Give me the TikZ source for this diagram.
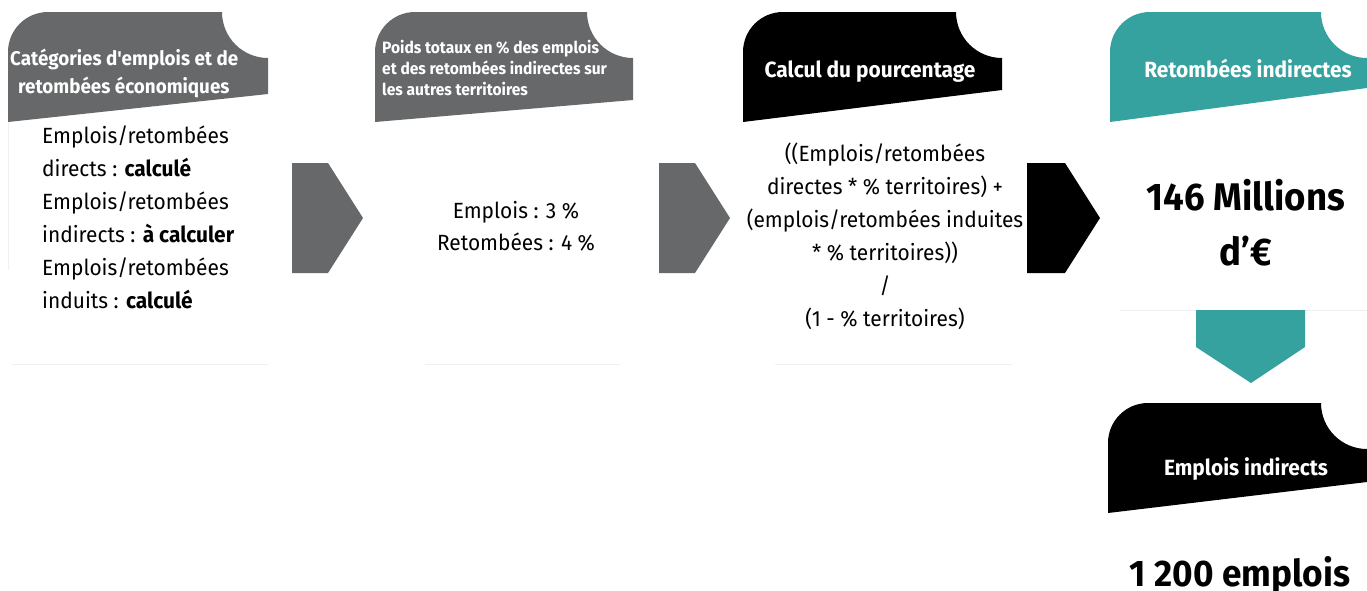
\documentclass[tikz,border=0pt]{standalone}
\usepackage{fontspec}
\setmainfont{Fira Sans}[FakeStretch=0.95,Ligatures=TeXOff]
\definecolor{hgray}{HTML}{666869}
\definecolor{teal}{HTML}{36A29F}
\definecolor{faint}{HTML}{F0F0F0}
\newcommand\hdrshape[6]{% x y w hleft hright color
  \fill[#6] (#1,#2+#4) -- (#1,#2+40) arc[start angle=180,end angle=270,radius=40]
    -- (#1+#3-46,#2) arc[start angle=180,end angle=90,radius=46]
    -- (#1+#3,#2+#5) -- cycle;}
\newcommand\chevright[5]{% x y w h color
  \fill[#5] (#1,#2) -- (#1+#3-35,#2) -- (#1+#3,#2+#4/2) -- (#1+#3-35,#2+#4) -- (#1,#2+#4) -- cycle;}
\tikzset{
  hdrtext/.style={text=white,font=\bfseries\fontsize{22}{29}\selectfont,inner sep=0pt},
  bodytext/.style={text=black,font=\fontsize{22}{33}\selectfont,inner sep=0pt},
  bigtext/.style={text=black,font=\bfseries\fontsize{38.5}{55}\selectfont,inner sep=0pt},
  faintline/.style={draw=faint,line width=1pt}
}
\begin{document}
\begin{tikzpicture}[x=1pt,y=-1pt]
\useasboundingbox (0,0) rectangle (1367,590);
% faint content boxes
\draw[faintline] (8,122) -- (8,270);
\draw[faintline] (12,364) -- (268,364);
\draw[faintline] (425,364) -- (620,364);
\draw[faintline] (775,364) -- (1012,364);
\draw[faintline] (1120,310) -- (1367,310);
% headers
\hdrshape{8}{12}{260}{110}{82}{hgray}
\hdrshape{375}{12}{258}{110}{88}{hgray}
\hdrshape{743}{12}{259}{110}{78}{black}
\hdrshape{1110}{12}{257}{110}{76}{teal}
\hdrshape{1108}{403}{259}{110}{79}{black}
% chevrons
\chevright{292}{163}{71}{110}{hgray}
\chevright{659}{163}{71}{110}{hgray}
\chevright{1027}{163}{73}{110}{black}
\fill[teal] (1196,310) -- (1305,310) -- (1305,347) -- (1251,383) -- (1196,347) -- cycle;
% header texts (anchor base = last line)
\node[hdrtext,anchor=base west,align=left,font=\bfseries\fontsize{19.8}{28}\selectfont] (h1) at (10,93) {Catégories d'emplois et de\\\hspace*{8pt}retombées économiques};
\node[hdrtext,anchor=base west,align=left,font=\bfseries\fontsize{16.4}{21}\selectfont] (h2) at (382,95) {Poids totaux en \% des emplois\\et des retombées indirectes sur\\les autres territoires};
\node[hdrtext,anchor=base] (h3) at (870,77) {Calcul du pourcentage};
\node[hdrtext,anchor=base] (h4) at (1248,77) {Retombées indirectes};
\node[hdrtext,anchor=base] (h5) at (1246,475) {Emplois indirects};
% body texts
\node[bodytext,anchor=base west,align=left] (b1) at (42,308) {Emplois/retombées\\directs : \textbf{calculé}\\Emplois/retombées\\indirects : \textbf{à calculer}\\Emplois/retombées\\induits : \textbf{calculé}};
\node[bodytext,anchor=base,align=center,font=\fontsize{22}{32}\selectfont] (b2) at (516,250) {Emplois : 3 \%\\Retombées : 4 \%};
\node[bodytext,anchor=base,align=center] (b3) at (885,326) {((Emplois/retombées\\directes * \% territoires) +\\(emplois/retombées induites\\* \% territoires))\\/\\(1 - \% territoires)};
\node[bigtext,anchor=base,align=center] (b4) at (1246,265) {146 Millions\\d’€};
\node[bigtext,anchor=base,font=\bfseries\fontsize{37}{50}\selectfont] (b5) at (1240,586) {1 200 emplois};
\end{tikzpicture}
\end{document}
